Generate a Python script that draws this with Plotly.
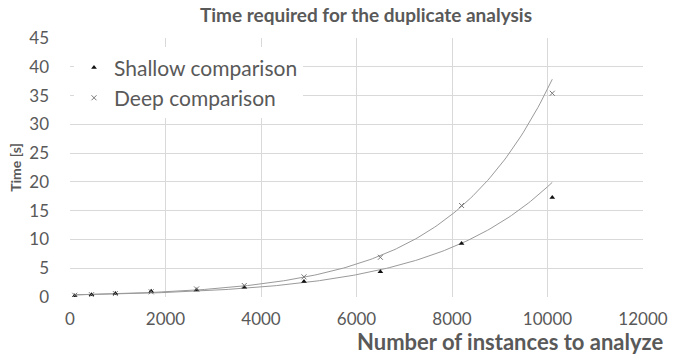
import numpy as np
import plotly.graph_objects as go

instances = [100, 450, 950, 1700, 2650, 3650, 4900, 6500, 8200, 10100]
shallow = [0.2, 0.4, 0.6, 1.0, 1.2, 1.7, 2.7, 4.4, 9.3, 17.3]
deep = [0.3, 0.4, 0.6, 0.9, 1.4, 2.0, 3.5, 6.9, 15.9, 35.4]

x_ticks = [0, 2000, 4000, 6000, 8000, 10000, 12000]
x_labels = ["0", "2000", "4000", "6000", "8000", "10000", "12000"]
y_ticks = [0, 5, 10, 15, 20, 25, 30, 35, 40, 45]

FONT = "Lato"
GRAY = "#595959"

def exp_trend(xs, ys):
    b, lna = np.polyfit(np.array(xs, float), np.log(np.array(ys, float)), 1)
    xx = np.linspace(min(xs), max(xs), 200)
    return xx, np.exp(lna) * np.exp(b * xx)

fig = go.Figure()
for ys in (shallow, deep):
    tx, ty = exp_trend(instances, ys)
    fig.add_trace(go.Scatter(x=tx, y=ty, mode="lines", showlegend=False, hoverinfo="skip",
                             line=dict(color="#9a9a9a", width=1)))

fig.add_trace(go.Scatter(x=instances, y=shallow, mode="markers", name="Shallow comparison",
                         marker=dict(symbol="triangle-up", size=5, color="#111111")))
fig.add_trace(go.Scatter(x=instances, y=deep, mode="markers", name="Deep comparison",
                         marker=dict(symbol="x-thin", size=5, color="#777777",
                                     line=dict(color="#777777", width=1))))

fig.update_layout(
    width=674, height=362,
    margin=dict(l=70, r=31, t=38, b=65),
    paper_bgcolor="white", plot_bgcolor="white",
    font=dict(family=FONT, color=GRAY),
    title=dict(text="<b>Time required for the duplicate analysis</b>", x=0.543, xanchor="center",
               y=0.957, yanchor="middle", font=dict(size=19, color=GRAY, family=FONT)),
    legend=dict(x=0.007, y=0.964, xanchor="left", yanchor="top", bgcolor="rgba(255,255,255,1)",
                font=dict(size=21, color=GRAY, family=FONT), itemwidth=30),
    xaxis=dict(range=[0, 12000], tickvals=x_ticks, ticktext=x_labels, showgrid=True,
               gridcolor="#d9d9d9", zeroline=False, showline=False, ticks="", automargin=False,
               tickfont=dict(size=17, color=GRAY), ticklabelstandoff=10),
    yaxis=dict(range=[0, 45], tickvals=y_ticks, showgrid=True, gridcolor="#d9d9d9",
               zeroline=False, showline=False, ticks="", automargin=False,
               tickfont=dict(size=17, color=GRAY), ticklabelstandoff=20,
               title=dict(text="<b>Time [s]</b>", font=dict(size=14, color=GRAY), standoff=4)),
    showlegend=True,
)
fig.add_annotation(text="<b>Number of instances to analyze</b>", xref="paper", yref="paper",
                   x=1.038, y=-0.17, xanchor="right", yanchor="middle", showarrow=False,
                   font=dict(size=22, color=GRAY, family=FONT))

fig.write_html("out.html", config={"displayModeBar": False},
               post_script="document.body.style.margin='0';document.body.style.padding='0';")
